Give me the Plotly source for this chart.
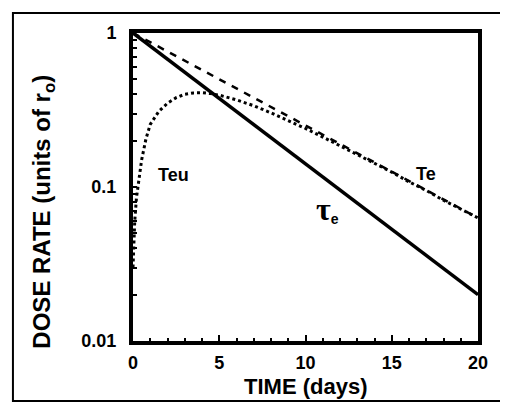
import plotly.graph_objects as go

# Data
t_line = [0, 20]
tau_e = [1.0, 0.02]          # solid line (tau_e)
te = [1.0, 0.063]            # dashed line (Te)

t_teu = [0, 0.05, 0.1, 0.2, 0.3, 0.5, 0.75, 1, 1.5, 2, 2.5, 3, 3.5, 4, 4.5, 5,
         6, 7, 8, 9, 10, 11, 12, 13, 14, 15, 16, 17, 18, 19, 20]
teu = [0.03, 0.045, 0.06, 0.085, 0.105, 0.15, 0.205, 0.255, 0.31, 0.35, 0.38, 0.40,
       0.408, 0.41, 0.404, 0.395, 0.368, 0.337, 0.303, 0.27, 0.24, 0.211, 0.185,
       0.163, 0.142, 0.125, 0.108, 0.095, 0.082, 0.072, 0.063]

x_ticks = [0, 5, 10, 15, 20]
y_ticks = [0.01, 0.02, 0.03, 0.04, 0.05, 0.06, 0.07, 0.08, 0.09,
           0.1, 0.2, 0.3, 0.4, 0.5, 0.6, 0.7, 0.8, 0.9, 1]
y_tick_text = ["0.01", "", "", "", "", "", "", "", "",
               "0.1", "", "", "", "", "", "", "", "", "1"]

fig = go.Figure()
fig.add_trace(go.Scatter(x=t_teu, y=teu, mode="lines",
                         line=dict(color="black", width=3, dash="dot"), showlegend=False))
fig.add_trace(go.Scatter(x=t_line, y=te, mode="lines",
                         line=dict(color="black", width=2.5, dash="7px,7px"), showlegend=False))
fig.add_trace(go.Scatter(x=t_line, y=tau_e, mode="lines",
                         line=dict(color="black", width=3.5), showlegend=False))

tickfont = dict(family="Liberation Sans", size=18, color="black", weight="bold")

fig.update_xaxes(range=[0, 20], tickvals=x_ticks, ticks="inside", ticklen=6, tickwidth=2,
                 tickcolor="black", showline=True, linewidth=4, linecolor="black",
                 mirror=True, showgrid=False, zeroline=False, tickfont=tickfont,
                 ticklabelstandoff=2,
                 minor=dict(ticks="inside", dtick=1, ticklen=3, tickwidth=1.5, tickcolor="black",
                            showgrid=False))
fig.update_yaxes(type="log", range=[-2, 0], tickvals=y_ticks, ticktext=y_tick_text,
                 ticks="inside", ticklen=4, tickwidth=1.5, tickcolor="black",
                 showline=True, linewidth=4, linecolor="black", mirror=True,
                 showgrid=False, zeroline=False, tickfont=tickfont, ticklabelstandoff=9)

lab = dict(family="Liberation Sans", size=18, color="black", weight="bold")
fig.add_annotation(x=2.32, y=-0.92, xref="x", yref="y", text="Teu", showarrow=False, font=lab)
fig.add_annotation(x=17.0, y=-0.917, xref="x", yref="y", text="Te", showarrow=False, font=lab)
fig.add_annotation(x=11.3, y=-1.14, xref="x", yref="y",
                   text="<span style='font-family:Liberation Serif;font-size:32px;font-weight:bold'>τ</span><sub><b>e</b></sub>",
                   showarrow=False, font=dict(family="Liberation Sans", size=20, color="black"))

fig.add_annotation(x=0.5, y=-0.147, xref="paper", yref="paper", text="TIME (days)",
                   showarrow=False, font=dict(family="Liberation Sans", size=22, color="black", weight="bold"),
                   yanchor="middle")
fig.add_annotation(x=-0.258, y=0.42, xref="paper", yref="paper",
                   text="DOSE RATE (units of r<sub>o</sub>)", textangle=-90,
                   showarrow=False, font=dict(family="Liberation Sans", size=24, color="black", weight="bold"),
                   xanchor="center", yanchor="middle")

# outer border
fig.add_shape(type="rect", xref="paper", yref="paper", x0=-0.348, x1=1.093, y0=-0.195, y1=1.065,
              line=dict(color="black", width=2))

fig.update_layout(width=508, height=402, margin=dict(l=125, r=38, t=25, b=69),
                  paper_bgcolor="white", plot_bgcolor="white")

fig.write_html("out.html")
